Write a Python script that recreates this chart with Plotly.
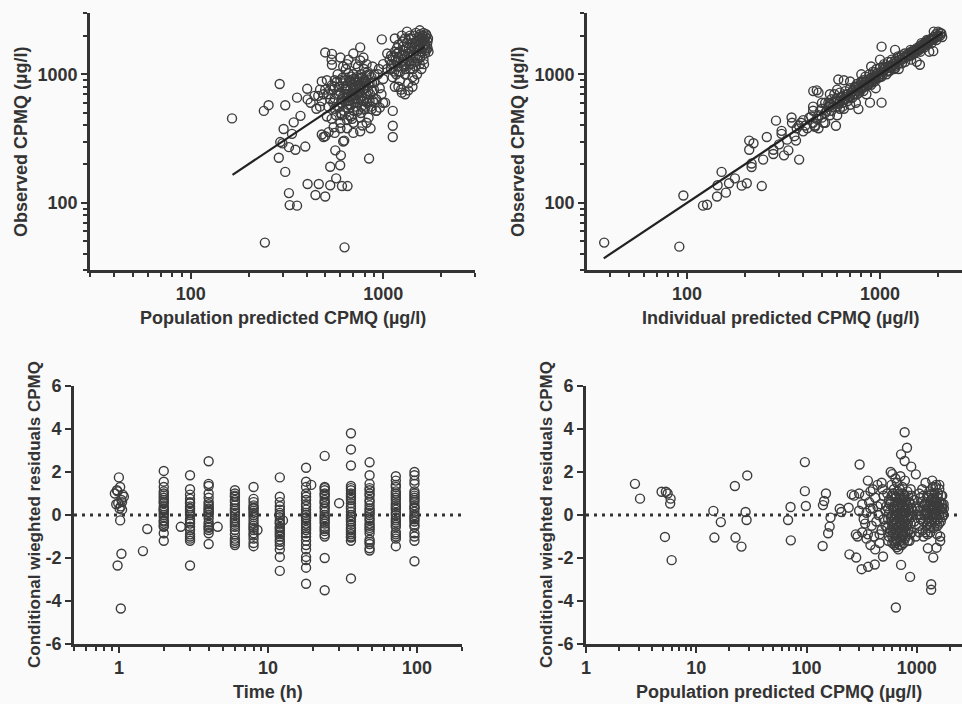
import math
import plotly.graph_objects as go

# ---------------- Panel A: population predicted vs observed ----------------
pts_a_sparse = [(164,454),(243,49),(630,45),(240,519),(254,575),(290,841),(310,574),(357,658),
    (403,771),(405,638),(372,475),(343,423),(304,375),(336,344),(292,297),(324,271),(350,259),
    (287,224),(394,274),(310,174),(324,119),(327,96),(357,95),(405,140),(463,140),(445,115),
    (500,112),(531,137),(570,155),(611,135),(653,135),(531,191),(598,196),(603,234),(564,256),
    (845,221),(1122,325),(1122,398),(1122,519),(1024,602),(921,519),(872,536),(490,325),(521,355),
    (553,387),(628,305),(760,1620),(984,1870),(542,1442),(542,1187),(300,290),(420,600),(440,680)]
pts_a_mid = [(480,880),(500,760),(520,700),(540,820),(560,650),(560,900),(580,1000),(590,560),
    (600,720),(610,480),(620,850),(630,620),(640,1100),(650,760),(660,540),(670,900),(680,680),
    (690,450),(700,1000),(700,800),(710,600),(720,1200),(730,720),(740,520),(750,880),(760,650),
    (770,1000),(780,400),(790,760),(800,900),(810,560),(820,700),(830,1050),(840,820),(850,620),
    (860,380),(870,950),(880,740),(900,860),(920,640),(940,1000),(960,780),(980,700),(500,1480),
    (540,1300),(600,1350),(660,1300),(700,1450),(760,1280),(820,1200),(880,1150),(540,450),
    (600,420),(650,380),(700,350),(760,360),(820,420),(620,300),(680,470),(720,560),(740,640),
    (580,560),(520,560),(510,470),(480,620),(470,760),(460,680),(450,540),(480,340),(500,330),
    (560,350),(600,500),(650,700),(700,680),(750,780),(800,650),(850,850),(900,1000),(950,1100),
    (640,900),(690,830),(730,950),(780,870),(820,980),(680,580),(770,560),(590,800),(550,600),
    (610,640),(1000,1200),(1000,920),(1050,1100),(660,1020),(720,880),(620,1150),(920,520),
    (960,550),(900,600),(1000,600),(650,1200),(740,1150),(790,1350),(560,800),(630,760),
    (470,560),(490,700),(510,900),(530,640),(550,760),(570,480),(575,880),(590,700),(605,600),
    (615,940),(625,520),(635,700),(645,820),(655,620),(665,480),(675,760),(685,960),(695,640),
    (705,520),(715,900),(725,820),(735,600),(745,720),(755,940),(765,500),(775,680),(785,620),
    (795,1100),(805,780),(815,880),(825,600),(835,740),(845,1000),(855,700),(865,560),(875,860),
    (885,620),(895,760),(600,900),(640,780),(680,860),(720,640),(760,720),(800,820),(690,720),
    (710,700),(650,660),(700,920),(740,860),(780,940),(620,680),(660,580),(560,540),(530,760),
    (800,540),(840,460),(760,460),(700,420),(650,440),(600,380)]
pts_a_high = [(1080,1300),(1100,1100),(1120,950),(1150,1500),(1150,800),(1180,1250),(1200,1700),
    (1200,1050),(1220,900),(1250,1400),(1250,720),(1280,1150),(1300,1900),(1300,1000),(1320,1600),
    (1340,1300),(1350,850),(1380,2000),(1380,1100),(1400,1500),(1420,1750),(1420,950),(1450,1250),
    (1480,2100),(1480,1400),(1500,1650),(1500,1000),(1520,1850),(1550,1200),(1550,2200),(1580,1500),
    (1600,1800),(1600,2000),(1620,1300),(1650,1700),(1650,1950),(1680,1550),(1700,1800),(1100,1400),
    (1130,1200),(1170,1000),(1200,800),(1260,1800),(1330,2150),(1400,1200),(1450,900),(1530,1400),
    (1580,1100),(1620,2100),(1680,2000),(1050,1450),(1180,1600),(1280,1300),(1350,1450),(1450,1600),
    (1550,1600),(1650,1450),(1700,1600),(1200,1350),(1300,1200),(1400,1900),(1500,1800),(1250,2000),
    (1150,1900),(1240,760),(1300,700),(1350,750),(1420,800),
    (1100,1200),(1120,1350),(1140,1050),(1160,1300),(1190,1150),(1210,1500),(1230,1050),(1260,1250),
    (1270,1550),(1290,1400),(1310,1100),(1330,1750),(1360,1600),(1370,1200),(1390,1350),(1410,1650),
    (1430,1100),(1440,1400),(1460,1750),(1470,1150),(1490,1550),(1510,1300),(1530,1700),(1540,1950),
    (1560,1350),(1570,1750),(1590,1900),(1610,1600),(1630,1200),(1640,1850),(1660,1600),(1670,2050),
    (1690,1700),(1710,1900),(1720,1500),(1560,2050),(1450,2000),(1360,1900),(1270,1650),(1180,1450)]
line_a = [165, 1650]

# ---------------- Panel B: individual predicted vs observed ----------------
pts_b_sparse = [(37.2,49),(91.2,45.6),(95.7,114),(121,95),(127,96.6),(143,112),(159,120),(144,137),
    (151,174),(165,142),(177,155),(192,136),(204,142),(244,135),(210,305),(221,291),(210,259),
    (216,190),(216,202),(248,217),(259,325),(289,436),(280,259),(309,363),(309,344),(318,234),
    (335,256),(348,461),(381,217),(367,305),(1019,1642),(1197,1550),(1019,602),(887,602),(773,536),
    (591,398),(608,910),(451,740),(1888,1515),(1610,1188),(300,285),(330,310),(280,240)]
pts_b_band = [(350,420),(360,330),(380,400),(400,360),(400,440),(420,380),(430,460),(450,420),
    (450,520),(460,390),(470,750),(480,480),(480,720),(500,460),(500,540),(510,420),(520,600),
    (520,500),(540,560),(550,480),(560,640),(560,520),(580,600),(580,700),(600,560),(600,650),
    (620,620),(620,720),(640,600),(640,680),(650,900),(660,640),(660,740),(680,700),(680,620),
    (700,680),(700,780),(720,740),(720,660),(740,700),(740,800),(760,760),(760,840),(780,720),
    (780,820),(800,780),(800,880),(820,820),(820,740),(840,860),(840,960),(860,820),(860,900),
    (880,880),(880,1000),(900,860),(900,940),(920,920),(920,1050),(940,880),(960,980),(960,1100),
    (980,940),(1000,1000),(1000,1120),(1020,960),(1050,1080),(1050,1200),(1080,1000),(1100,1120),
    (1100,1250),(1120,1060),(1150,1150),(1150,1300),(1180,1100),(1200,1200),(1200,1280),(1250,1220),
    (1250,1350),(1300,1300),(1300,1400),(1350,1350),(1350,1250),(1400,1450),(1400,1380),(1450,1500),
    (1450,1400),(1500,1550),(1500,1450),(1550,1600),(1550,1500),(1600,1650),(1600,1550),(1650,1700),
    (1650,1600),(1700,1750),(1750,1800),(1750,1700),(1800,1850),(1850,1900),(1900,1950),(1950,2050),
    (2000,2000),(2050,2100),(2100,1950),(2000,2150),(1900,2150),(1800,1500),(1550,1250),(1450,1300),
    (1250,1100),(950,780),(850,700),(750,600),(700,580),(650,540),(600,480),(520,420),(480,380),
    (460,400),(600,760),(700,880),(800,1000),(900,1150),(1000,1300),(550,700),(500,600),(450,560),
    (370,380),(390,420),(410,400),(440,470),(470,450),(490,520),(530,520),(550,590),(570,560),
    (590,640),(610,590),(630,660),(650,640),(670,700),(690,660),(710,720),(730,700),(750,790),
    (770,740),(790,800),(810,860),(830,800),(850,880),(870,840),(890,920),(910,880),(930,960),
    (950,920),(970,1020),(990,960),(1010,1050),(1030,1000),(1060,1120),(1090,1060),(1110,1160),
    (1130,1120),(1160,1200),(1190,1160),(1220,1260),(1270,1300),(1320,1350),(1370,1400),(1420,1420),
    (1470,1480),(1520,1530),(1570,1560),(1620,1620),(1680,1660),(1730,1740),(1780,1760),(1830,1820),
    (1880,1880),(1920,1900),(1980,1960),(2050,2000),(2080,2080),(1960,1850),(1850,1750),(1700,1620),
    (1620,1500),(1300,1220),(1200,1120),(1100,1050),(1000,950),(900,830),(800,760),(700,650),
    (600,620),(640,560),(560,580),(620,540),(540,600),(760,700),(820,900),(940,1040),(1040,1150),
    (1140,1250),(1240,1380),(1340,1450),(1440,1550),(1640,1750),(1750,1850)]
line_b = [37, 2100]

# ---------------- Panel C: time vs CWRES ----------------
time_cols = [2, 3, 4, 6, 8, 12, 18, 24, 36, 48, 72, 96]
cwres_cols = [
    [2.05,1.55,1.3,1.1,0.9,0.7,0.55,0.4,0.25,0.1,-0.1,-0.25,-0.4,-0.55,-0.85,-1.2,0.8,0.3,0.0,-0.3,0.6,-0.5,0.2,1.0],
    [1.85,1.2,0.75,0.55,0.4,0.2,0.0,-0.2,-0.4,-0.55,-0.9,-1.1,-1.2,-2.35,0.95,0.3,0.1,-0.3,-0.7,0.6,-1.0],
    [2.5,1.45,1.35,1.0,0.6,0.4,0.25,0.1,-0.15,-0.35,-0.55,-0.7,-0.85,-1.35,0.5,0.3,0.0,-0.45,-0.6,0.8,0.15],
    [1.15,1.0,0.85,0.7,0.45,0.3,0.1,-0.15,-0.35,-0.55,-0.7,-1.1,-1.3,-1.4,0.9,0.6,0.2,0.0,-0.25,-0.45,-0.9,-1.2],
    [1.3,0.75,0.45,0.3,0.2,0.0,-0.25,-0.4,-0.6,-0.85,-1.1,-1.3,-1.45,0.6,0.35,0.1,-0.1,-0.5,-0.7,-0.95],
    [1.75,0.85,0.4,0.25,0.0,-0.25,-0.4,-0.55,-0.7,-0.9,-1.15,-1.4,-1.6,-1.95,-2.6,0.6,0.1,-0.1,-0.35,-0.6,-0.8,-1.0,-1.25],
    [2.2,1.55,1.3,0.85,0.7,0.25,0.1,-0.1,-0.25,-0.4,-0.6,-0.85,-1.4,-1.6,-1.95,-2.1,-2.45,-3.2,1.0,0.5,0.4,0.0,-0.15,-0.5,-0.7,-1.0,-1.2],
    [2.75,1.3,1.15,1.0,0.85,0.7,0.55,0.4,0.15,-0.1,-0.3,-0.55,-0.75,-1.0,-2.0,-3.5,1.25,0.95,0.6,0.3,0.0,-0.2,-0.4,-0.65,-0.9],
    [3.8,3.05,2.3,1.35,1.15,1.0,0.8,0.55,0.4,0.15,-0.1,-0.3,-0.45,-0.7,-0.9,-1.05,-1.2,-2.95,1.25,0.9,0.7,0.3,0.0,-0.2,-0.6,-0.8,-1.0],
    [2.45,1.85,1.45,1.15,0.9,0.7,0.45,0.3,0.1,-0.15,-0.4,-0.6,-0.85,-1.15,-1.35,-1.55,-1.65,1.25,1.0,0.6,0.2,0.0,-0.25,-0.5,-0.7,-1.25],
    [1.8,1.6,1.3,1.1,0.9,0.7,0.45,0.25,0.1,-0.15,-0.35,-0.55,-0.9,-1.1,-1.45,1.4,1.0,0.8,0.55,0.35,0.0,-0.25,-0.45,-0.8,-1.0],
    [2.0,1.85,1.45,1.1,0.9,0.7,0.45,0.3,0.15,-0.1,-0.3,-0.55,-1.0,-1.2,-2.15,1.6,1.0,0.8,0.6,0.35,0.0,-0.2,-0.45,-0.85],
]
time_extra = [1.0,1.02,0.97,0.94,1.08,1.04,0.99,1.03,1.05,1.02,1.04,0.98,1.03,1.06,0.96,1.01,0.98,1.05,
              1.45,1.55,2.6,4.6,8.5,12.6,19.5,30]
cwres_extra = [1.75,1.3,1.15,1.0,0.85,0.7,0.55,0.4,0.25,-0.25,-1.8,-2.35,-4.35,0.95,0.5,0.3,1.1,0.6,
               -1.68,-0.65,-0.55,-0.55,-0.7,-0.25,1.4,0.55]

# ---------------- Panel D: population predicted vs CWRES ----------------
pts_d_sparse = [(2.78,1.45),(3.09,0.76),(4.85,1.08),(5.3,1.08),(5.5,1.0),(5.85,0.76),(5.8,0.53),
    (5.2,-1.02),(5.98,-2.1),(14.3,0.19),(16.7,-0.33),(14.6,-1.05),(22.4,1.35),(29,1.84),(28,0.14),
    (28.6,-0.23),(22.7,-1.05),(25.7,-1.47),(71.6,0.37),(68,-0.23),(72,-1.18),(96.6,2.46),(96.6,1.11),
    (98.6,0.42),(150,1.0),(141,0.46),(144.5,0.65),(165,-0.12),(162,-0.54),(157,-0.85),(140,-1.44),
    (200,0.29),(207,0.14),(241,0.34),(245,-1.83),(282,-1.98),(257,0.96),(303,2.35),(316,-2.52),
    (362,-2.41),(416,-2.3),(494,-1.93),(720,-2.32),(870,-2.88),(646,-4.3),(776,3.85),(815,3.13),
    (720,2.82),(776,2.51),(890,2.25),(980,1.89),(1350,-3.22),(1350,-3.48),(1260,-1.55),(1410,-1.98),
    (1510,-1.52),(1630,-1.21)]
pts_d_dense = [(300,1.0),(320,0.5),(330,-0.2),(340,0.9),(350,0.1),(360,-0.9),(370,0.6),(380,1.1),
    (390,-0.5),(400,0.3),(410,-1.0),(420,0.8),(430,-0.3),(440,1.4),(450,0.0),(460,-1.3),(470,0.5),
    (480,-0.7),(490,1.2),(500,-0.2),(320,-0.8),(350,-1.1),(380,-1.4),(420,-1.6),(460,-0.9),(360,1.6),
    (400,1.2),(300,0.2),(280,-0.9),(270,0.9),(290,-1.0),(440,0.4),(480,1.5),(500,0.9),(380,0.3),
    (340,-0.4),(520,-0.5),(530,0.4),(540,1.0),(550,-1.2),(560,0.1),(570,-0.8),(580,2.0),(580,0.6),
    (590,-0.3),(600,1.9),(600,-1.0),(610,0.3),(620,-0.6),(620,1.2),(630,-1.4),(640,0.0),(640,-0.9),
    (650,0.8),(650,-0.3),(660,1.5),(660,-1.2),(670,0.2),(670,-0.6),(680,-1.6),(680,0.5),(690,-0.1),
    (690,1.0),(700,-0.8),(700,0.3),(710,-0.4),(710,1.8),(720,0.0),(720,-1.1),(730,0.7),(730,-0.5),
    (740,-0.2),(740,1.3),(750,-0.9),(750,0.4),(760,0.1),(760,-1.3),(770,-0.6),(770,0.9),(780,-0.3),
    (780,1.6),(790,0.2),(790,-1.0),(800,-0.5),(800,0.6),(820,-0.1),(820,1.1),(840,-0.7),(840,0.3),
    (860,0.0),(860,-1.2),(880,0.5),(880,-0.4),(900,0.9),(900,-0.8),(920,0.2),(950,-0.3),(950,0.7),
    (980,-1.0),(980,0.4),(550,-0.2),(600,0.0),(650,-0.7),(700,-0.3),(750,-0.1),(800,-0.2),(560,0.7),
    (620,-0.2),(680,-0.9),(730,-1.4),(780,-0.8),(830,-0.4),(610,-0.8),(660,0.4),(720,0.5),(770,0.0),
    (850,0.6),(590,1.4),(640,1.7),(700,1.2),(760,0.8),(1020,0.3),(1050,-0.5),(1080,0.8),(1100,0.0),
    (1120,1.2),(1150,-0.3),(1180,0.5),(1200,1.5),(1200,-0.8),(1220,0.2),(1250,0.9),(1250,-0.2),
    (1280,0.4),(1300,1.1),(1300,-0.6),(1320,0.0),(1350,0.7),(1350,-0.3),(1380,0.3),(1400,1.3),
    (1400,-0.1),(1420,0.6),(1450,0.1),(1450,1.0),(1480,-0.4),(1500,0.5),(1500,1.4),(1520,0.2),
    (1550,0.8),(1550,-0.2),(1580,0.4),(1600,0.0),(1600,1.2),(1650,0.6),(1650,-0.3),(1700,0.3),
    (1700,0.9),(1750,0.5),(1100,0.6),(1150,0.9),(1250,0.5),(1350,0.2),(1450,0.6),(1550,0.4),
    (1650,0.2),(1050,1.0),(1130,-0.7),(1230,-0.5),(1330,-0.8),(1430,-0.6),(1530,-0.9),(1630,-1.0),
    (1380,1.6),(1480,1.3),(1600,1.4),(1200,0.1),(1300,0.3),(1400,0.4),(1500,0.0),(1600,0.6),
    (1700,-0.1),(1750,0.0),
    (520,0.2),(540,-0.6),(560,-1.0),(570,0.5),(590,0.9),(600,-0.5),(610,1.0),(620,0.4),(630,-0.2),
    (640,0.6),(650,-1.1),(660,-0.4),(670,1.1),(680,0.1),(690,-0.6),(700,0.8),(710,-1.2),(720,0.2),
    (730,-0.8),(740,0.4),(750,1.0),(760,-0.5),(770,0.5),(780,-1.1),(790,0.7),(800,0.1),(810,-0.8),
    (820,0.4),(830,-1.2),(840,0.9),(850,-0.2),(860,0.6),(870,-0.9),(880,1.2),(890,-0.1),(900,0.3),
    (620,-1.2),(660,-1.5),(700,-1.4),(740,-1.0),(580,-0.7),(600,-1.3),(640,-1.3),(690,0.6),(710,0.0),
    (730,0.1),(660,0.0),(620,0.9),(580,-0.1),(550,0.3),(1060,0.2),(1090,-0.2),(1140,0.4),(1170,0.0),
    (1210,0.6),(1240,0.1),(1270,0.8),(1290,-0.3),(1330,0.5),(1360,1.0),(1390,0.0),(1410,0.8),
    (1440,0.3),(1470,0.7),(1490,0.2),(1530,0.6),(1560,1.0),(1590,-0.4),(1620,0.3),(1660,0.9),
    (1690,0.5),(1720,0.1),(1760,0.3),(1340,-0.5),(1440,-0.3),(1540,-0.5),(1250,-0.9),(1150,-1.0),
    (1050,-0.8),(1000,0.0)]

# ---------------- figure ----------------
INK = "#333333"
W, H = 962, 704
FONT = "Liberation Sans, Arial, sans-serif"
marker = dict(symbol="circle-open", size=9, color="#3c3c3c", line=dict(width=1.4, color="#3c3c3c"))

def unzip(pts):
    return [p[0] for p in pts], [p[1] for p in pts]

fig = go.Figure()
ax, ay = unzip(pts_a_sparse + pts_a_mid + pts_a_high)
fig.add_trace(go.Scatter(x=ax, y=ay, mode="markers", marker=marker, xaxis="x", yaxis="y"))
fig.add_trace(go.Scatter(x=line_a, y=line_a, mode="lines", line=dict(color="#222", width=2.2),
                         xaxis="x", yaxis="y"))
bx, by = unzip(pts_b_sparse + pts_b_band)
fig.add_trace(go.Scatter(x=bx, y=by, mode="markers", marker=marker, xaxis="x2", yaxis="y2"))
fig.add_trace(go.Scatter(x=line_b, y=line_b, mode="lines", line=dict(color="#222", width=2.2),
                         xaxis="x2", yaxis="y2"))

cx, cy = [], []
for t, vals in zip(time_cols, cwres_cols):
    cx += [t] * len(vals)
    cy += vals
cx += time_extra
cy += cwres_extra
fig.add_trace(go.Scatter(x=[0.5, 200], y=[0, 0], mode="lines",
                         line=dict(color=INK, width=3, dash="3px,5px"), xaxis="x3", yaxis="y3"))
fig.add_trace(go.Scatter(x=cx, y=cy, mode="markers", marker=marker, xaxis="x3", yaxis="y3"))

dx, dy = unzip(pts_d_sparse + pts_d_dense)
fig.add_trace(go.Scatter(x=[1, 2600], y=[0, 0], mode="lines",
                         line=dict(color=INK, width=3, dash="3px,5px"), xaxis="x4", yaxis="y4"))
fig.add_trace(go.Scatter(x=dx, y=dy, mode="markers", marker=marker, xaxis="x4", yaxis="y4"))

tickfont = dict(family=FONT, size=18, color=INK, weight="bold")

def decades(lo, hi):
    vals = []
    e = math.floor(math.log10(lo))
    while 10 ** e <= hi:
        for m in range(1, 10):
            v = m * 10 ** e
            if lo * 0.999 <= v <= hi * 1.001:
                vals.append(v)
        e += 1
    return vals

def log_axis(lo, hi, major, dom, anchor):
    return dict(type="log", range=[math.log10(lo), math.log10(hi)], domain=dom, anchor=anchor,
                tickvals=major, ticktext=[str(v) for v in major], tickfont=tickfont,
                ticks="outside", ticklen=6, tickwidth=2.2, tickcolor=INK, automargin=False,
                minor=dict(tickvals=[v for v in decades(lo, hi) if v not in major], ticks="outside",
                           ticklen=4, tickwidth=1.6, tickcolor=INK, showgrid=False),
                showline=True, linewidth=2.6, linecolor=INK, showgrid=False, zeroline=False)

def px_x(a, b):
    return [a / W, b / W]

def px_y(top, bottom):
    return [1 - bottom / H, 1 - top / H]

res_ticks = [-6, -4, -2, 0, 2, 4, 6]
def lin_y(dom, anchor):
    return dict(range=[-6, 6], domain=dom, anchor=anchor, tickvals=res_ticks,
                ticktext=[str(v) for v in res_ticks], automargin=False,
                tickfont=tickfont, ticks="outside", ticklen=6, tickwidth=2.2, tickcolor=INK,
                showline=True, linewidth=2.6, linecolor=INK, showgrid=False, zeroline=False)

top_y = px_y(13, 270)
bot_y = px_y(386, 644)
fig.update_layout(
    width=W, height=H, autosize=False,
    margin=dict(l=0, r=0, t=0, b=0, pad=0, autoexpand=False), showlegend=False,
    paper_bgcolor="#fafafa", plot_bgcolor="#fafafa",
    xaxis=log_axis(30, 3000, [100, 1000], px_x(90, 475), "y"),
    yaxis=log_axis(30, 3000, [100, 1000], top_y, "x"),
    xaxis2=log_axis(30.3, 10 ** 3.425, [100, 1000], px_x(587, 962), "y2"),
    yaxis2=log_axis(30, 3000, [100, 1000], top_y, "x2"),
    xaxis3=log_axis(0.5, 200, [1, 10, 100], px_x(74, 462), "y3"),
    yaxis3=lin_y(bot_y, "x3"),
    xaxis4=log_axis(1, 10 ** 3.41, [1, 10, 100, 1000], px_x(586, 962), "y4"),
    yaxis4=lin_y(bot_y, "x4"),
)

def ann(text, x, y, angle=0, size=18):
    fig.add_annotation(text=text, x=x / W, y=1 - y / H, xref="paper", yref="paper",
                       showarrow=False, textangle=angle,
                       font=dict(family=FONT, size=size, color=INK, weight="bold"),
                       xanchor="center", yanchor="middle")

ann("Population predicted CPMQ (µg/l)", 283, 318)
ann("Observed CPMQ (µg/l)", 21, 142, -90)
ann("Individual predicted CPMQ (µg/l)", 780, 318)
ann("Observed CPMQ (µg/l)", 518, 142, -90)
ann("Conditional wieghted residuals CPMQ", 34, 515, -90, 17)
ann("Time (h)", 268, 692)
ann("Conditional wieghted residuals CPMQ", 546, 515, -90, 17)
ann("Population predicted CPMQ (µg/l)", 779, 692)

fig.write_html("out.html",
               post_script="document.body.style.margin='0';document.body.style.padding='0';"
                           "document.documentElement.style.overflow='hidden';")
